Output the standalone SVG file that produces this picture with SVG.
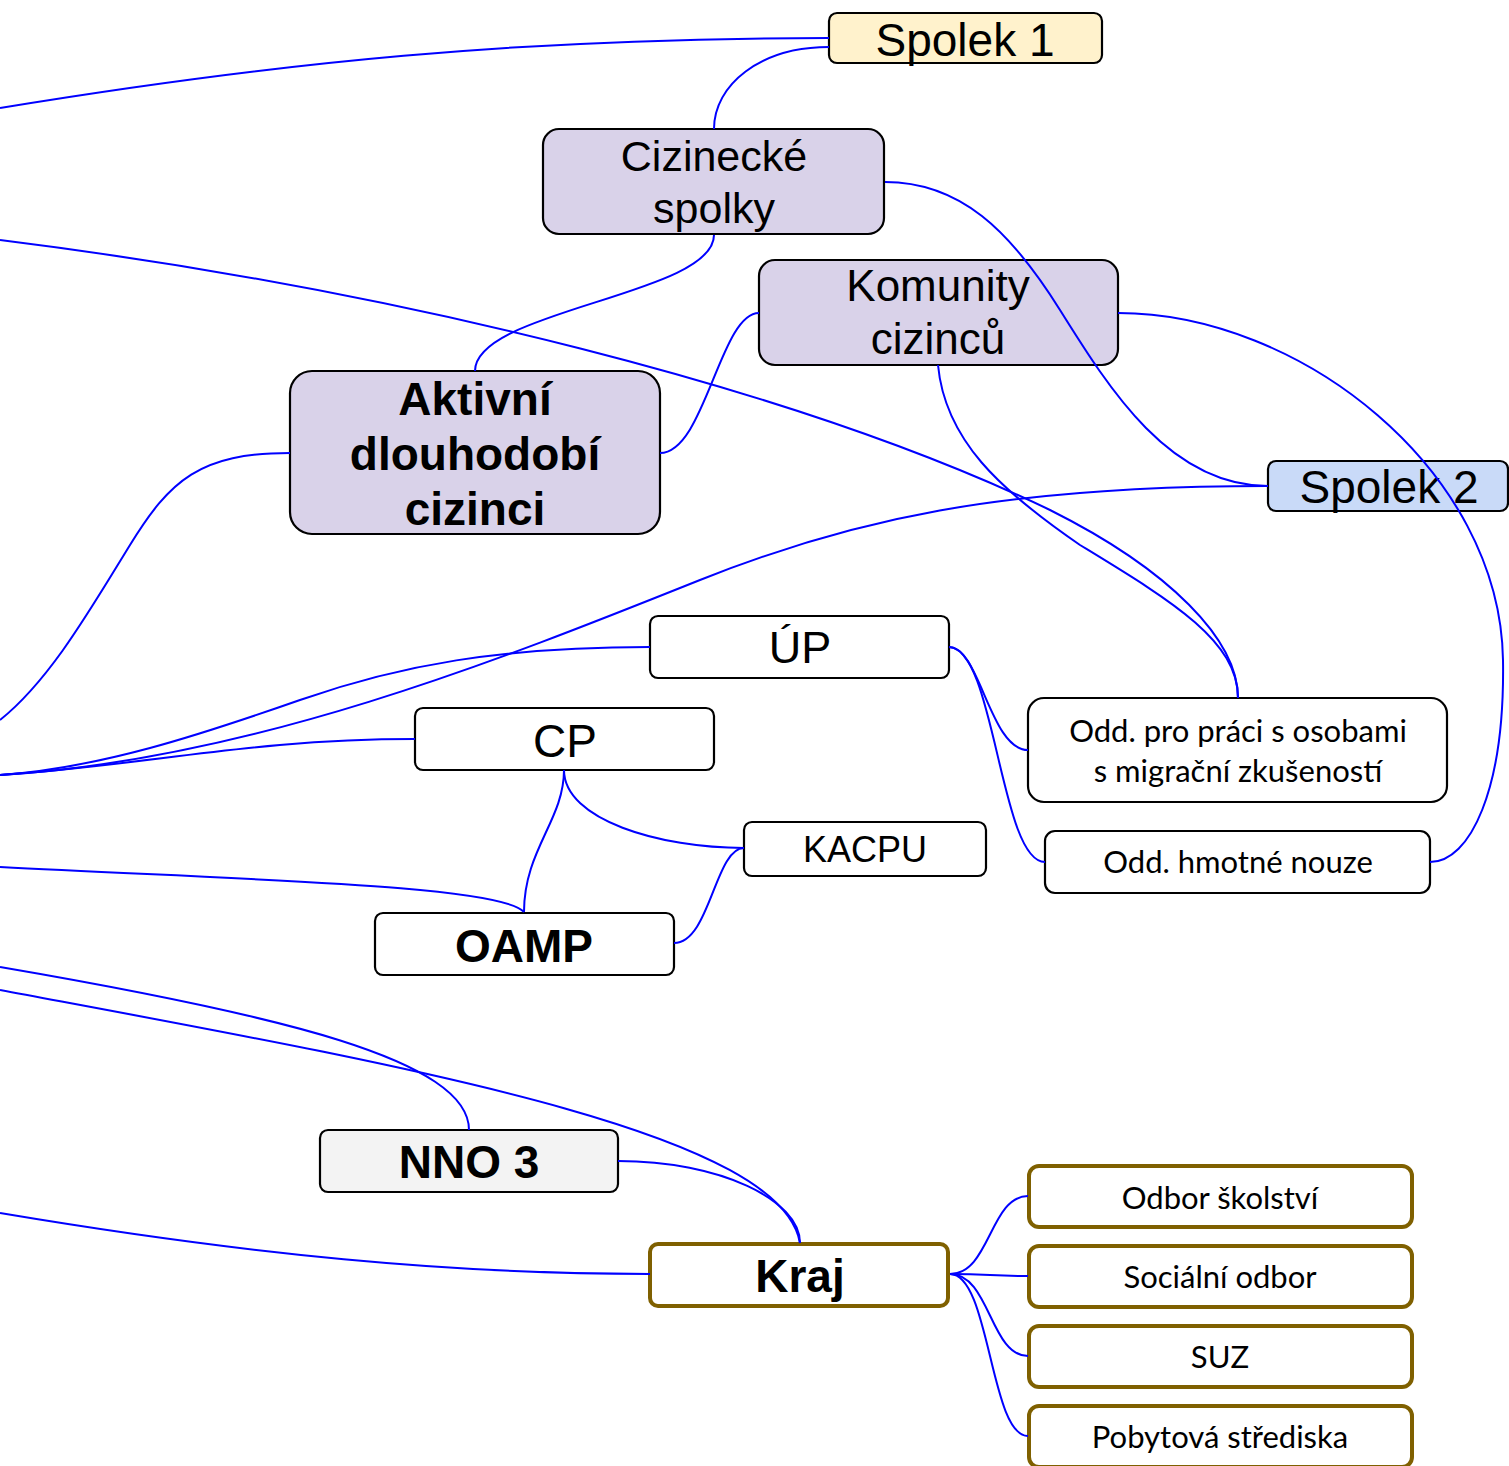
<svg xmlns="http://www.w3.org/2000/svg" width="1509" height="1466" viewBox="0 0 1509 1466">
<style>
.n{stroke:#000;stroke-width:2.2}
.k{stroke:#7f6000;stroke-width:4;fill:#fff}
.p{fill:#d9d2e9}
.w{fill:#fff}
.a{font-family:"Liberation Sans",Arial,sans-serif;text-anchor:middle;fill:#000}
.b{font-family:"Liberation Sans",Arial,sans-serif;font-weight:bold;text-anchor:middle;fill:#000}
.c{font-family:Lato,"Open Sans",sans-serif;text-anchor:middle;fill:#000;font-size:31px}
#edges path{fill:none;stroke:#0000ff;stroke-width:2}
</style>
<rect width="1509" height="1466" fill="#fff"/>
<g id="spolek1"><rect class="n" x="829" y="13" width="273" height="50" rx="8" fill="#fff2cc"/><text class="a" x="965" y="56" font-size="46">Spolek 1</text></g>
<g id="cizinecke"><rect class="n p" x="543" y="129" width="341" height="105" rx="16"/><text class="a" x="714" y="171" font-size="43">Cizinecké</text><text class="a" x="714" y="223" font-size="43">spolky</text></g>
<g id="komunity"><rect class="n p" x="759" y="260" width="359" height="105" rx="16"/><text class="a" x="938" y="301" font-size="44">Komunity</text><text class="a" x="938" y="354" font-size="44">cizinců</text></g>
<g id="aktivni"><rect class="n p" x="290" y="371" width="370" height="163" rx="22"/><text class="b" x="475" y="415" font-size="46">Aktivní</text><text class="b" x="475" y="470" font-size="46">dlouhodobí</text><text class="b" x="475" y="525" font-size="46">cizinci</text></g>
<g id="spolek2"><rect class="n" x="1268" y="461" width="240" height="50" rx="8" fill="#c9daf8"/><text class="a" x="1389" y="503" font-size="46">Spolek 2</text></g>
<g id="up"><rect class="n w" x="650" y="616" width="299" height="62" rx="8"/><text class="a" x="800" y="663" font-size="45">ÚP</text></g>
<g id="cp"><rect class="n w" x="415" y="708" width="299" height="62" rx="8"/><text class="a" x="565" y="757" font-size="46">CP</text></g>
<g id="kacpu"><rect class="n w" x="744" y="822" width="242" height="54" rx="8"/><text class="a" x="865" y="862" font-size="36">KACPU</text></g>
<g id="oamp"><rect class="n w" x="375" y="913" width="299" height="62" rx="8"/><text class="b" x="524" y="962" font-size="46">OAMP</text></g>
<g id="odd-prace"><rect class="n w" x="1028" y="698" width="419" height="104" rx="16"/><text class="c" x="1238" y="742">Odd. pro práci s osobami</text><text class="c" x="1238" y="782">s migrační zkušeností</text></g>
<g id="odd-nouze"><rect class="n w" x="1045" y="831" width="385" height="62" rx="10"/><text class="c" x="1238" y="873">Odd. hmotné nouze</text></g>
<g id="nno3"><rect class="n" x="320" y="1130" width="298" height="62" rx="8" fill="#f3f3f3"/><text class="b" x="469" y="1178" font-size="46">NNO 3</text></g>
<g id="kraj"><rect class="k" x="650" y="1244" width="298" height="62" rx="8"/><text class="b" x="800" y="1292" font-size="46">Kraj</text></g>
<g id="skolstvi"><rect class="k" x="1029" y="1166" width="383" height="61" rx="10"/><text class="c" x="1220" y="1209">Odbor školství</text></g>
<g id="socialni"><rect class="k" x="1029" y="1246" width="383" height="61" rx="10"/><text class="c" x="1220" y="1288">Sociální odbor</text></g>
<g id="suz"><rect class="k" x="1029" y="1326" width="383" height="61" rx="10"/><text class="c" x="1220" y="1368">SUZ</text></g>
<g id="pobytova"><rect class="k" x="1029" y="1406" width="383" height="61" rx="10"/><text class="c" x="1220" y="1448">Pobytová střediska</text></g>
<g id="edges">
<path d="M0,108 C280,62 520,38 829,38"/>
<path d="M829,47 C760,47 714,85 714,129"/>
<path d="M714,235 C714,295 475,310 475,371"/>
<path d="M885,182 C960,182 1010,230 1060,310 C1110,390 1170,486 1268,486"/>
<path d="M759,313 C720,313 705,453 660,453"/>
<path d="M1118,313 C1300,313 1500,470 1503,660 C1505,790 1470,862 1430,862"/>
<path d="M938,365 C945,440 1000,490 1080,545 C1170,600 1238,640 1238,698"/>
<path d="M0,240 C400,290 800,390 1050,510 C1170,570 1238,640 1238,698"/>
<path d="M1268,486 C1000,486 850,520 700,580 C500,660 250,760 0,775"/>
<path d="M650,647 C500,647 400,665 300,700 C200,735 100,768 0,775"/>
<path d="M415,739 C250,739 150,765 0,775"/>
<path d="M290,453 C200,453 170,480 130,545 C90,610 50,680 0,720"/>
<path d="M0,867 C250,880 500,885 524,912"/>
<path d="M564,770 C564,820 524,850 524,912"/>
<path d="M564,770 C564,820 660,848 744,848"/>
<path d="M744,848 C715,848 710,943 674,943"/>
<path d="M949,647 C980,647 990,750 1028,750"/>
<path d="M949,647 C995,647 1000,862 1045,862"/>
<path d="M0,967 C280,1015 469,1060 469,1130"/>
<path d="M0,990 C400,1065 780,1130 800,1243"/>
<path d="M618,1161 C720,1161 800,1200 800,1243"/>
<path d="M0,1213 C250,1255 450,1274 650,1274"/>
<path d="M950,1274 C990,1274 990,1196 1028,1196"/>
<path d="M950,1274 C990,1274 990,1276 1028,1276"/>
<path d="M950,1274 C990,1274 990,1356 1028,1356"/>
<path d="M950,1274 C990,1274 990,1436 1028,1436"/>
</g>
</svg>
